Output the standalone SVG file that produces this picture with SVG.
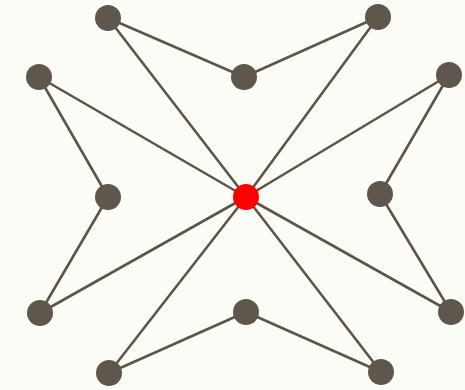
<svg xmlns="http://www.w3.org/2000/svg" width="465" height="390" viewBox="0 0 465 390">
<style>
.e{stroke:#5d554c;stroke-width:2.6;fill:none;stroke-linecap:round}
.n{fill:#5f574e}
.c{fill:#ff0000}
</style>
<rect width="465" height="390" fill="#fdfdf7"/>
<g id="connectors">
<line class="e" x1="108" y1="18" x2="244" y2="77"/>
<line class="e" x1="244" y1="77" x2="378" y2="17"/>
<line class="e" x1="108" y1="18" x2="246" y2="197"/>
<line class="e" x1="378" y1="17" x2="246" y2="197"/>
<line class="e" x1="39" y1="77" x2="246" y2="197"/>
<line class="e" x1="39" y1="77" x2="108" y2="197"/>
<line class="e" x1="449" y1="75" x2="246" y2="197"/>
<line class="e" x1="449" y1="75" x2="380" y2="194"/>
<line class="e" x1="108" y1="197" x2="40" y2="313"/>
<line class="e" x1="40" y1="313" x2="246" y2="197"/>
<line class="e" x1="380" y1="194" x2="451" y2="312"/>
<line class="e" x1="451" y1="312" x2="246" y2="197"/>
<line class="e" x1="109" y1="373" x2="246" y2="197"/>
<line class="e" x1="109" y1="373" x2="246" y2="312"/>
<line class="e" x1="246" y1="312" x2="381" y2="372"/>
<line class="e" x1="381" y1="372" x2="246" y2="197"/>
</g>
<g id="n-tl"><circle class="n" cx="108" cy="18" r="13"/></g>
<g id="n-tr"><circle class="n" cx="378" cy="17" r="13"/></g>
<g id="n-tm"><circle class="n" cx="244" cy="77" r="13"/></g>
<g id="n-l"><circle class="n" cx="39" cy="77" r="13"/></g>
<g id="n-r"><circle class="n" cx="449" cy="75" r="13"/></g>
<g id="n-lm"><circle class="n" cx="108" cy="197" r="13"/></g>
<g id="n-rm"><circle class="n" cx="380" cy="194" r="13"/></g>
<g id="n-bl"><circle class="n" cx="40" cy="313" r="13"/></g>
<g id="n-br"><circle class="n" cx="451" cy="312" r="13"/></g>
<g id="n-bm"><circle class="n" cx="246" cy="312" r="13"/></g>
<g id="n-ll"><circle class="n" cx="109" cy="373" r="13"/></g>
<g id="n-lr"><circle class="n" cx="381" cy="372" r="13"/></g>
<g id="n-center"><circle class="c" cx="246" cy="197" r="13"/></g>
</svg>
